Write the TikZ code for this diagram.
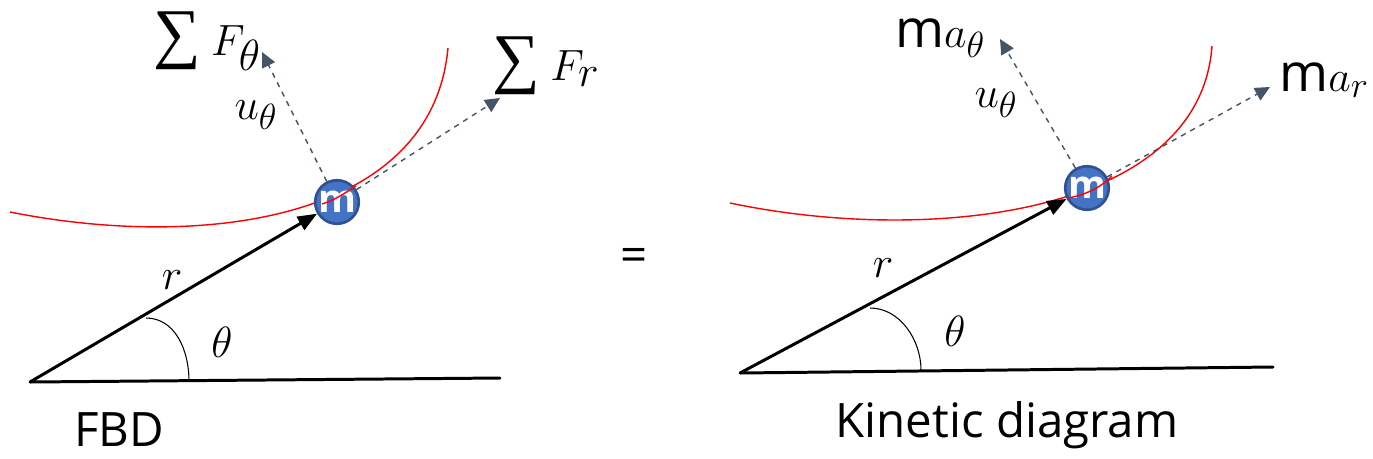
\documentclass[tikz,border=0pt]{standalone}
\usepackage{amsmath}
\usepackage{fontspec}
\setmainfont{Open Sans}
\newfontfamily\sumfont{Liberation Serif}
\usetikzlibrary{arrows.meta}
\definecolor{pathred}{HTML}{FF0000}
\definecolor{unitblue}{HTML}{44546A}
\definecolor{ballfill}{HTML}{4472C4}
\definecolor{ballline}{HTML}{2F528F}
\newcommand{\sumsign}{{\sumfont\fontsize{38}{38}\selectfont ∑}\,}
\tikzset{
  lbl/.style={inner sep=0pt,font=\fontsize{30}{36}\selectfont},
  sumlbl/.style={inner sep=0pt,anchor=base,font=\fontsize{35}{40}\selectfont},
  caption/.style={inner sep=0pt,font=\fontsize{27}{32}\selectfont},
  ball/.style={circle,fill=ballfill,draw=ballline,line width=1.5pt,minimum size=0.84cm,inner sep=0pt,
    text=white,font=\fontsize{22}{22}\selectfont\bfseries},
  radius vec/.style={line width=1.7pt,-{Triangle[length=11pt,width=8.5pt]}},
  unit vec/.style={unitblue,dashed,line width=0.8pt,-{Triangle[length=8.5pt,width=8pt]}},
  base line/.style={line width=1.7pt,line cap=round},
  path line/.style={pathred,line width=0.8pt},
}
\begin{document}
\begin{tikzpicture}[x=0.02cm,y=-0.02cm]
\useasboundingbox (0,0) rectangle (1373,458);
% coordinates
\coordinate (O1)  at (  30, 382);%
\coordinate (H1)  at ( 500, 378);%
\coordinate (T1)  at ( 262,  52);%
\coordinate (R1)  at ( 500,  98);%
\coordinate (O2)  at ( 740, 373);%
\coordinate (H2)  at (1273, 367);%
\coordinate (T2)  at (1000,  39);%
\coordinate (R2)  at (1270,  87);%
% paths
\draw[path line] (10,212) .. controls (200,250) and (432,222) .. (448,48);
\draw[path line] (730,203) .. controls (930,245) and (1200,215) .. (1212,46);
% ground lines
\draw[base line] (O1) -- (H1);
\draw[base line] (O2) -- (H2);
% angles
\draw[line width=0.6pt] (146,318) .. controls (175,318) and (189,350) .. (189,381);
\draw[line width=0.6pt] (870,308) .. controls (900,308) and (921,340) .. (921,370);
% particles
\node[ball] (m1) at ( 337, 202) {m};
\node[ball] (m2) at (1087, 188) {m};
\draw[path line] (322,204) .. controls (335,200) and (345,193) .. (356,186);
\draw[path line] (1068,198) .. controls (1085,195) and (1100,188) .. (1112,176);
% vectors
\draw[radius vec] (O1) -- (m1);
\draw[radius vec] (O2) -- (m2);
\draw[unit vec] (m1) -- (T1);
\draw[unit vec] (m1) -- (R1);
\draw[unit vec] (m2) -- (T2);
\draw[unit vec] (m2) -- (R2);
% labels
\node[sumlbl] (sft) at ( 207,  55) {\sumsign$F_\theta$};
\node[sumlbl] (sfr) at ( 546,  80) {\sumsign$F_r$};
\node[lbl]    (ut1) at ( 256, 115) {$u_\theta$};
\node[lbl]    (r1)  at ( 172, 280) {$r$};
\node[lbl]    (th1) at ( 222, 342) {$\theta$};
\node[caption,anchor=base] (fbd) at ( 119, 446) {FBD};
\node[caption] (eq)  at ( 634, 260) {=};
\node[lbl]    (mat) at ( 940,  38) {m$a_\theta$};
\node[lbl]    (mar) at (1324,  80) {m$a_r$};
\node[lbl]    (ut2) at ( 996, 103) {$u_\theta$};
\node[lbl]    (r2)  at ( 883, 268) {$r$};
\node[lbl]    (th2) at ( 955, 331) {$\theta$};
\node[caption,anchor=base] (kin) at (1007, 437) {Kinetic diagram};
\end{tikzpicture}
\end{document}
